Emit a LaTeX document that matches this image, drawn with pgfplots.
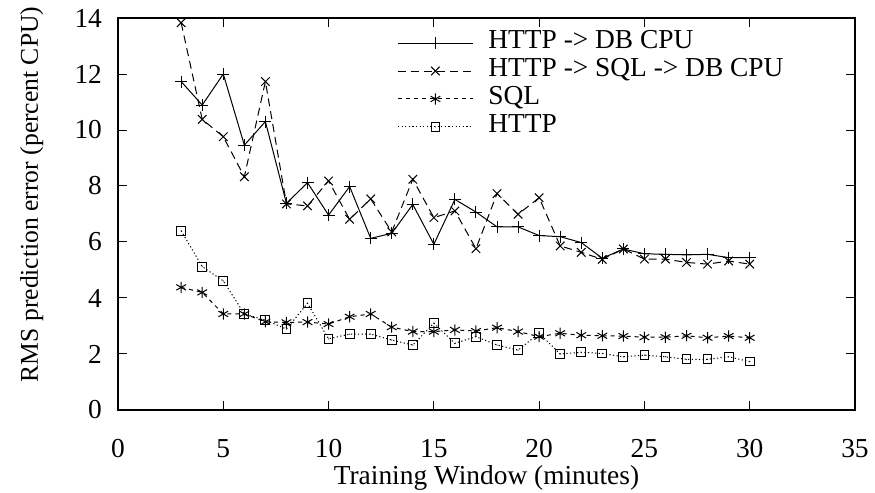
\documentclass[border=0pt]{standalone}
\usepackage{fontspec}
\setmainfont{Liberation Serif}
\usepackage{pgfplots}
\pgfplotsset{compat=1.18}
\pgfdeclareplotmark{sqdot}{%
  \pgfpathrectangle{\pgfpoint{-\pgfplotmarksize}{-\pgfplotmarksize}}{\pgfpoint{2\pgfplotmarksize}{2\pgfplotmarksize}}%
  \pgfusepathqstroke
  \pgfpathcircle{\pgfpointorigin}{0.3pt}%
  \pgfusepathqfill}
\begin{document}
\begin{tikzpicture}
\begin{axis}[
  scale only axis,
  width=368.5pt, height=196pt,
  at={(0pt,0pt)}, anchor=south west,
  xmin=0, xmax=35, ymin=0, ymax=14,
  xtick={0,5,...,35}, ytick={0,2,...,14},
  tick align=inside,
  major tick length=4.5pt,
  axis line style={line width=0.6pt},
  every tick/.style={black, line width=0.5pt},
  /pgf/number format/assume math mode=true,
  font=\fontsize{13.7}{16}\selectfont,
  xticklabel style={yshift=-11pt},
  yticklabel style={xshift=-4.5pt},
  xlabel={Training Window (minutes)},
  ylabel={RMS prediction error (percent CPU)},
  xlabel style={at={(axis description cs:0.5,-0.173)}, anchor=center},
  ylabel style={at={(axis description cs:-0.117,0.55)}, anchor=center, rotate=0, font=\fontsize{12.8}{15}\selectfont},
  legend cell align=left,
  legend style={draw=none, fill=none, inner sep=0pt, column sep=7.5pt, row sep=0pt,
    at={(axis description cs:0.3786,0.9725)}, anchor=north west,
    nodes={inner sep=0pt, text height=9.7pt, text depth=4.25pt},
    font=\fontsize{13.7}{16}\selectfont},
  legend image code/.code={%
    \draw[mark repeat=2, mark phase=2, #1] plot coordinates {(0pt,0pt) (18.75pt,0pt) (37.5pt,0pt)};},
]
\addplot[black, line width=0.5pt, mark=+, mark size=3pt, mark options={solid}] coordinates {
(3,11.73) (4,10.89) (5,12.0) (6,9.46) (7,10.30) (8,7.38) (9,8.12) (10,6.96) (11,7.98) (12,6.13)
(13,6.31) (14,7.34) (15,5.92) (16,7.52) (17,7.07) (18,6.54) (19,6.54) (20,6.23) (21,6.19) (22,5.98)
(23,5.42) (24,5.75) (25,5.58) (26,5.56) (27,5.54) (28,5.56) (29,5.44) (30,5.44)};
\addlegendentry{HTTP -> DB CPU}
\addplot[black, line width=0.5pt, dash pattern=on 4pt off 2.5pt, mark=x, mark size=3pt, mark options={solid}] coordinates {
(3,13.83) (4,10.38) (5,9.76) (6,8.33) (7,11.73) (8,7.36) (9,7.29) (10,8.18) (11,6.81) (12,7.54)
(13,6.36) (14,8.24) (15,6.87) (16,7.11) (17,5.76) (18,7.73) (19,6.99) (20,7.58) (21,5.86) (22,5.63)
(23,5.38) (24,5.75) (25,5.39) (26,5.39) (27,5.27) (28,5.21) (29,5.32) (30,5.21)};
\addlegendentry{HTTP -> SQL -> DB CPU}
\addplot[black, line width=0.5pt, dash pattern=on 2pt off 2pt, mark=asterisk, mark size=2.8pt, mark options={solid}] coordinates {
(3,4.38) (4,4.20) (5,3.43) (6,3.43) (7,3.15) (8,3.13) (9,3.14) (10,3.07) (11,3.33) (12,3.43)
(13,2.96) (14,2.80) (15,2.80) (16,2.86) (17,2.82) (18,2.94) (19,2.80) (20,2.62) (21,2.74) (22,2.67)
(23,2.65) (24,2.64) (25,2.60) (26,2.60) (27,2.65) (28,2.58) (29,2.64) (30,2.58)};
\addlegendentry{SQL}
\addplot[black, line width=0.5pt, dash pattern=on 0.6pt off 1.2pt, mark=sqdot, mark size=2.2pt, mark options={solid}] coordinates {
(3,6.40) (4,5.12) (5,4.61) (6,3.43) (7,3.21) (8,2.89) (9,3.81) (10,2.54) (11,2.71) (12,2.71)
(13,2.50) (14,2.32) (15,3.10) (16,2.38) (17,2.62) (18,2.32) (19,2.14) (20,2.74) (21,2.00) (22,2.06)
(23,2.02) (24,1.90) (25,1.96) (26,1.90) (27,1.81) (28,1.81) (29,1.90) (30,1.73)};
\addlegendentry{HTTP}
\end{axis}
\pgfresetboundingbox
\path[use as bounding box] (-59pt,-41.5pt) rectangle (378.5pt,205pt);
\end{tikzpicture}
\end{document}
